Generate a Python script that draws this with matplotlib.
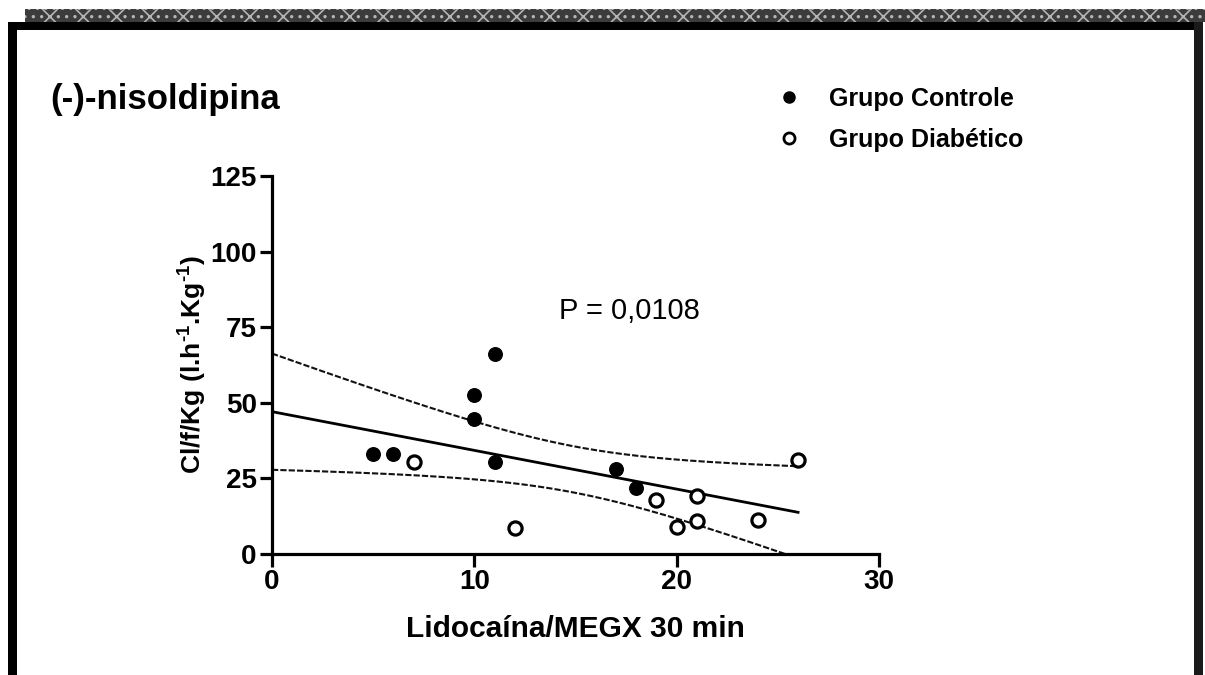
import numpy as np
import matplotlib
matplotlib.use("Agg")
import matplotlib.pyplot as plt
from matplotlib.patches import Rectangle
from matplotlib.lines import Line2D

plt.rcParams['font.family'] = ['Liberation Sans', 'DejaVu Sans']
plt.rcParams['mathtext.fontset'] = 'custom'
plt.rcParams['mathtext.rm'] = 'Liberation Sans'
plt.rcParams['mathtext.bf'] = 'Liberation Sans:bold'
plt.rcParams['hatch.linewidth'] = 1.2

# ---- data ----
controle_x = [5, 6, 10, 10, 11, 11, 17, 18]
controle_y = [33.1, 33.1, 52.6, 44.7, 66.1, 30.3, 28.1, 21.9]
diabetico_x = [7, 12, 19, 20, 21, 21, 24, 26]
diabetico_y = [30.3, 8.7, 18.0, 8.9, 19.2, 10.9, 11.4, 31.1]

title = "(-)-nisoldipina"
legend_labels = ["Grupo Controle", "Grupo Diabético"]
p_text = "P = 0,0108"
x_label = "Lidocaína/MEGX 30 min"
y_label = "Cl/f/Kg (l.h$^{\\mathbf{\u2010}\\mathbf{1}}$.Kg$^{\\mathbf{\u2010}\\mathbf{1}}$)"
x_ticks = [0, 10, 20, 30]
y_ticks = [0, 25, 50, 75, 100, 125]
t_crit = 2.145  # t(0.975, df=14)

W, H = 1205, 675
fig = plt.figure(figsize=(W / 100, H / 100), dpi=100)

def fx(x):
    return x / W

def fy(y):
    return 1 - y / H

# ---- frame (scanned page border) ----
fig.add_artist(Rectangle((fx(25), fy(22)), fx(1180), 13 / H, transform=fig.transFigure,
                         facecolor='#3c3c3c', edgecolor='#b5b5b5', hatch='x..', lw=0))
fig.add_artist(Rectangle((fx(8), fy(30)), fx(1195), 8 / H, transform=fig.transFigure,
                         facecolor='black', edgecolor='none'))
fig.add_artist(Rectangle((fx(8), 0), fx(9), fy(22), transform=fig.transFigure,
                         facecolor='black', edgecolor='none'))
fig.add_artist(Rectangle((fx(1194), 0), fx(9), fy(22), transform=fig.transFigure,
                         facecolor='#1a1a1a', edgecolor='none'))

# ---- axes ----
ax = fig.add_axes([fx(272), fy(554), fx(879 - 272), (554 - 176) / H])

ax.scatter(controle_x, controle_y, s=95, c='black', edgecolors='black', zorder=3, clip_on=False)
ax.scatter(diabetico_x, diabetico_y, s=90, facecolors='white', edgecolors='black',
           linewidths=2.3, zorder=3, clip_on=False)

# linear regression with 95% confidence band (all points)
x_all = np.array(controle_x + diabetico_x, dtype=float)
y_all = np.array(controle_y + diabetico_y, dtype=float)
n = len(x_all)
slope, intercept = np.polyfit(x_all, y_all, 1)
resid = y_all - (slope * x_all + intercept)
s = np.sqrt(np.sum(resid ** 2) / (n - 2))
sxx = np.sum((x_all - x_all.mean()) ** 2)
xs = np.linspace(0, x_all.max(), 200)
ys = slope * xs + intercept
half = t_crit * s * np.sqrt(1 / n + (xs - x_all.mean()) ** 2 / sxx)
ax.plot(xs, ys, color='black', lw=2.0, zorder=2)
ax.plot(xs, ys + half, color='#111111', lw=1.5, ls=(0, (3, 1.0)), zorder=2)
ax.plot(xs, ys - half, color='#111111', lw=1.5, ls=(0, (3, 1.0)), zorder=2)

ax.set_xlim(0, 30)
ax.set_ylim(0, 125)
ax.set_xticks(x_ticks)
ax.set_yticks(y_ticks)
for sp in ['top', 'right']:
    ax.spines[sp].set_visible(False)
for sp in ['left', 'bottom']:
    ax.spines[sp].set_linewidth(2.3)
ax.tick_params(axis='both', length=9, width=2.3, labelsize=20, pad=2)
for lab in ax.get_xticklabels() + ax.get_yticklabels():
    lab.set_fontweight('bold')

ax.set_xlabel(x_label, fontsize=21.5, fontweight='bold', labelpad=14)
ax.set_ylabel(y_label, fontsize=19, fontweight='bold', labelpad=2)

ax.text(14.2, 80.5, p_text, fontsize=21, ha='left', va='center')

fig.text(fx(50), fy(100), title, fontsize=25, fontweight='bold', ha='left', va='center')

handles = [
    Line2D([], [], ls='none', marker='o', markersize=8, markerfacecolor='black', markeredgecolor='black'),
    Line2D([], [], ls='none', marker='o', markersize=8, markerfacecolor='white', markeredgecolor='black',
           markeredgewidth=2),
]
leg = fig.legend(handles, legend_labels, loc='upper left', bbox_to_anchor=(fx(774), fy(87)),
                 frameon=False, prop={'weight': 'bold', 'size': 18}, handletextpad=1.0,
                 labelspacing=0.68, handlelength=1.2, borderaxespad=0, borderpad=0)

fig.savefig('out.png', dpi=100, facecolor='white')
